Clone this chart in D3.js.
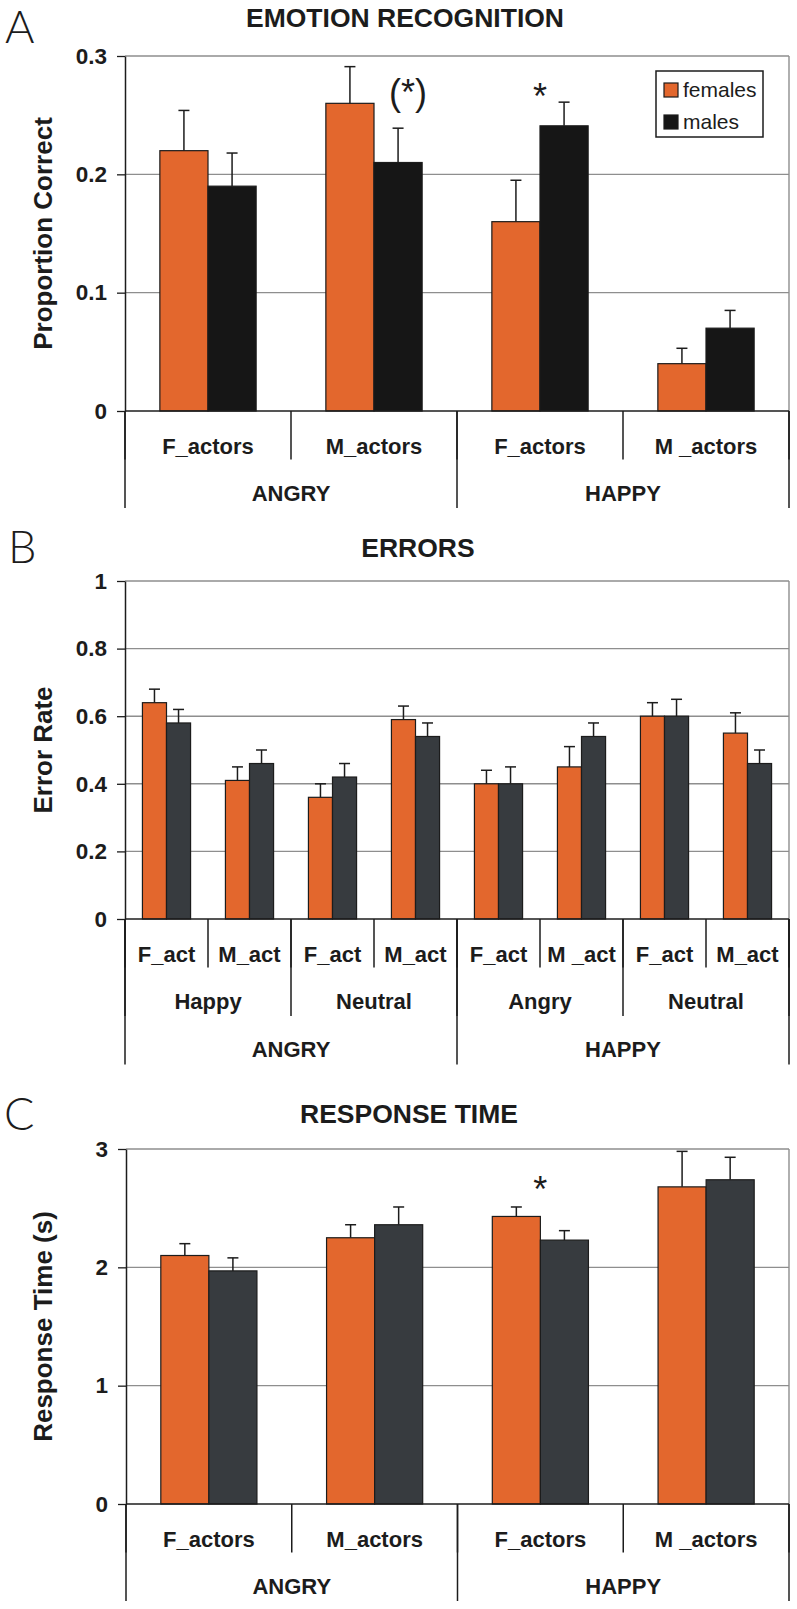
<!DOCTYPE html>
<html><head><meta charset="utf-8">
<script src="https://cdn.jsdelivr.net/npm/d3@7"></script>
<style>
body{margin:0;background:#fff;}
svg{display:block;font-family:"Liberation Sans",Arial,Helvetica,sans-serif;}
</style></head><body>
<svg id="chart" width="797" height="1609"></svg>
<script>
// ---------- DATA ----------
const seriesNames = ["females", "males"];

// Panel A: Emotion recognition
const groupsA = ["ANGRY", "HAPPY"];
const categoriesA = ["F_actors", "M_actors", "F_actors", "M _actors"];
const femalesA = [0.22, 0.26, 0.16, 0.04];
const femalesErrA = [0.034, 0.031, 0.035, 0.013];
const malesA = [0.19, 0.21, 0.241, 0.07];
const malesErrA = [0.028, 0.029, 0.02, 0.015];
const ticksA = [0, 0.1, 0.2, 0.3];
const tickLabelsA = ["0", "0.1", "0.2", "0.3"];
const notesA = [{cat: 1, value: 0.266, label: "(*)"}, {cat: 2, value: 0.273, label: "*"}];

// Panel B: Errors
const groupsB = ["ANGRY", "HAPPY"];
const subgroupsB = ["Happy", "Neutral", "Angry", "Neutral"];
const categoriesB = ["F_act", "M_act", "F_act", "M_act", "F_act", "M _act", "F_act", "M_act"];
const femalesB = [0.64, 0.41, 0.36, 0.59, 0.40, 0.45, 0.60, 0.55];
const femalesErrB = [0.04, 0.04, 0.04, 0.04, 0.04, 0.06, 0.04, 0.06];
const malesB = [0.58, 0.46, 0.42, 0.54, 0.40, 0.54, 0.60, 0.46];
const malesErrB = [0.04, 0.04, 0.04, 0.04, 0.05, 0.04, 0.05, 0.04];
const ticksB = [0, 0.2, 0.4, 0.6, 0.8, 1];
const tickLabelsB = ["0", "0.2", "0.4", "0.6", "0.8", "1"];

// Panel C: Response time
const groupsC = ["ANGRY", "HAPPY"];
const categoriesC = ["F_actors", "M_actors", "F_actors", "M _actors"];
const femalesC = [2.10, 2.25, 2.43, 2.68];
const femalesErrC = [0.10, 0.11, 0.08, 0.30];
const malesC = [1.97, 2.36, 2.23, 2.74];
const malesErrC = [0.11, 0.15, 0.08, 0.19];
const ticksC = [0, 1, 2, 3];
const tickLabelsC = ["0", "1", "2", "3"];
const notesC = [{cat: 2, value: 2.726, label: "*"}];

// ---------- DRAWING ----------
const FONT = '"Liberation Sans", Arial, Helvetica, sans-serif';
const ORANGE = "#E3672D", INK = "#1c1c1c", GRID = "#8e8e8e";
const svg = d3.select("#chart");

function panel(cfg) {
  const g = svg.append("g");
  const {x0, x1, y0, yTop} = cfg;
  const y = d3.scaleLinear().domain([0, d3.max(cfg.ticks)]).range([y0, yTop]);
  const x = d3.scaleBand().domain(d3.range(cfg.categories.length)).range([x0, x1])
    .paddingInner(0.42).paddingOuter(0.21);
  const xs = d3.scaleBand().domain(seriesNames).range([0, x.bandwidth()]);

  // gridlines + plot border
  g.append("g").selectAll("line").data(cfg.ticks.filter(t => t > 0)).join("line")
    .attr("x1", x0).attr("x2", x1).attr("y1", d => y(d)).attr("y2", d => y(d))
    .attr("stroke", GRID).attr("stroke-width", 1.4);
  g.append("line").attr("x1", x1).attr("x2", x1).attr("y1", yTop).attr("y2", y0)
    .attr("stroke", GRID).attr("stroke-width", 1.4);

  const series = [
    {name: "females", vals: cfg.females, errs: cfg.femalesErr, color: ORANGE},
    {name: "males", vals: cfg.males, errs: cfg.malesErr, color: cfg.maleColor}
  ];
  series.forEach(s => {
    const data = s.vals.map((v, i) => ({i, v, e: s.errs[i]}));
    g.append("g").selectAll("rect").data(data).join("rect")
      .attr("x", d => x(d.i) + xs(s.name)).attr("width", xs.bandwidth())
      .attr("y", d => y(d.v)).attr("height", d => y0 - y(d.v))
      .attr("fill", s.color).attr("stroke", INK).attr("stroke-width", 1.2);
  });
  series.forEach(s => {
    const data = s.vals.map((v, i) => ({i, v, e: s.errs[i]}));
    const eg = g.append("g").attr("stroke", INK).attr("stroke-width", 1.5);
    eg.selectAll("line.stem").data(data).join("line").attr("class", "stem")
      .attr("x1", d => x(d.i) + xs(s.name) + xs.bandwidth() / 2)
      .attr("x2", d => x(d.i) + xs(s.name) + xs.bandwidth() / 2)
      .attr("y1", d => y(d.v)).attr("y2", d => y(d.v + d.e));
    eg.selectAll("line.cap").data(data).join("line").attr("class", "cap")
      .attr("x1", d => x(d.i) + xs(s.name) + xs.bandwidth() / 2 - 5.5)
      .attr("x2", d => x(d.i) + xs(s.name) + xs.bandwidth() / 2 + 5.5)
      .attr("y1", d => y(d.v + d.e)).attr("y2", d => y(d.v + d.e));
  });

  // y axis
  const ax = g.append("g").attr("transform", `translate(${x0},0)`)
    .call(d3.axisLeft(y).tickValues(cfg.ticks).tickFormat((d, i) => cfg.tickLabels[i])
      .tickSize(8).tickSizeOuter(0).tickPadding(10));
  ax.attr("font-family", FONT).attr("font-size", 22.5);
  ax.select(".domain").attr("stroke", INK).attr("stroke-width", 1.5);
  ax.selectAll(".tick line").attr("stroke", INK).attr("stroke-width", 1.3);
  ax.selectAll(".tick text").attr("font-weight", "bold").attr("fill", INK);

  // x baseline
  g.append("line").attr("x1", x0).attr("x2", x1).attr("y1", y0).attr("y2", y0)
    .attr("stroke", INK).attr("stroke-width", 1.5);

  // category tiers
  cfg.tiers.forEach((labels, k) => {
    const b = d3.scaleBand().domain(d3.range(labels.length)).range([x0, x1]);
    const bounds = d3.range(labels.length + 1).map(i => i < labels.length ? b(i) : x1);
    g.append("g").selectAll("line").data(bounds).join("line")
      .attr("x1", d => d).attr("x2", d => d).attr("y1", y0).attr("y2", y0 + (k + 1) * 48.5)
      .attr("stroke", INK).attr("stroke-width", 1.5);
    g.append("g").selectAll("text").data(labels).join("text")
      .attr("x", (d, i) => b(i) + b.bandwidth() / 2).attr("y", y0 + 35 + k * 47.5)
      .attr("dy", "0.35em").attr("text-anchor", "middle")
      .attr("font-size", 22).attr("font-weight", "bold").attr("fill", INK).text(d => d);
  });

  // significance notes
  (cfg.notes || []).forEach(n => {
    const cx = n.label === "(*)" ? x(n.cat) + xs("males") + xs.bandwidth() / 2 + 10
                                 : x(n.cat) + x.bandwidth() / 2;
    const off = n.label === "(*)" ? 9 : 21;
    g.append("text").attr("x", cx).attr("y", y(n.value) + off).attr("text-anchor", "middle")
      .attr("font-size", 36).attr("fill", INK).text(n.label);
  });

  // titles
  g.append("text").attr("x", cfg.titleX).attr("y", cfg.titleY).attr("text-anchor", "middle")
    .attr("font-size", 26.5).attr("font-weight", "bold").attr("fill", INK).text(cfg.title);
  g.append("text").attr("x", cfg.letterX).attr("y", cfg.letterY)
    .attr("font-family", "Lato, 'DejaVu Sans', sans-serif").attr("font-weight", 300)
    .attr("font-size", 45).attr("fill", INK).text(cfg.letter);
  g.append("text").attr("transform", `translate(52,${(y0 + yTop) / 2}) rotate(-90)`)
    .attr("text-anchor", "middle").attr("font-size", 26).attr("font-weight", "bold")
    .attr("fill", INK).text(cfg.yTitle);

  return {g, x, xs, y};
}

panel({
  x0: 125, x1: 789, yTop: 56, y0: 411,
  categories: categoriesA, tiers: [categoriesA, groupsA],
  females: femalesA, femalesErr: femalesErrA, males: malesA, malesErr: malesErrA,
  maleColor: "#161616", ticks: ticksA, tickLabels: tickLabelsA, notes: notesA,
  title: "EMOTION RECOGNITION", titleX: 405, titleY: 27,
  letter: "A", letterX: 5, letterY: 43, yTitle: "Proportion Correct"
});

panel({
  x0: 125, x1: 789, yTop: 581, y0: 919,
  categories: categoriesB, tiers: [categoriesB, subgroupsB, groupsB],
  females: femalesB, femalesErr: femalesErrB, males: malesB, malesErr: malesErrB,
  maleColor: "#373B3F", ticks: ticksB, tickLabels: tickLabelsB,
  title: "ERRORS", titleX: 418, titleY: 557,
  letter: "B", letterX: 8, letterY: 563, yTitle: "Error Rate"
});

panel({
  x0: 126, x1: 789, yTop: 1149, y0: 1504,
  categories: categoriesC, tiers: [categoriesC, groupsC],
  females: femalesC, femalesErr: femalesErrC, males: malesC, malesErr: malesErrC,
  maleColor: "#373B3F", ticks: ticksC, tickLabels: tickLabelsC, notes: notesC,
  title: "RESPONSE TIME", titleX: 409, titleY: 1123,
  letter: "C", letterX: 4, letterY: 1130, yTitle: "Response Time (s)"
});

// legend (panel A)
const leg = svg.append("g");
leg.append("rect").attr("x", 656).attr("y", 71).attr("width", 107).attr("height", 66)
  .attr("fill", "#fff").attr("stroke", INK).attr("stroke-width", 1.5);
const legColors = [ORANGE, "#161616"];
seriesNames.forEach((name, i) => {
  leg.append("rect").attr("x", 664).attr("y", 83 + i * 32).attr("width", 14).attr("height", 14)
    .attr("fill", legColors[i]).attr("stroke", INK).attr("stroke-width", 1.2);
  leg.append("text").attr("x", 683).attr("y", 90 + i * 32).attr("dy", "0.35em")
    .attr("font-size", 21).attr("fill", INK).text(name);
});
</script>
</body></html>
